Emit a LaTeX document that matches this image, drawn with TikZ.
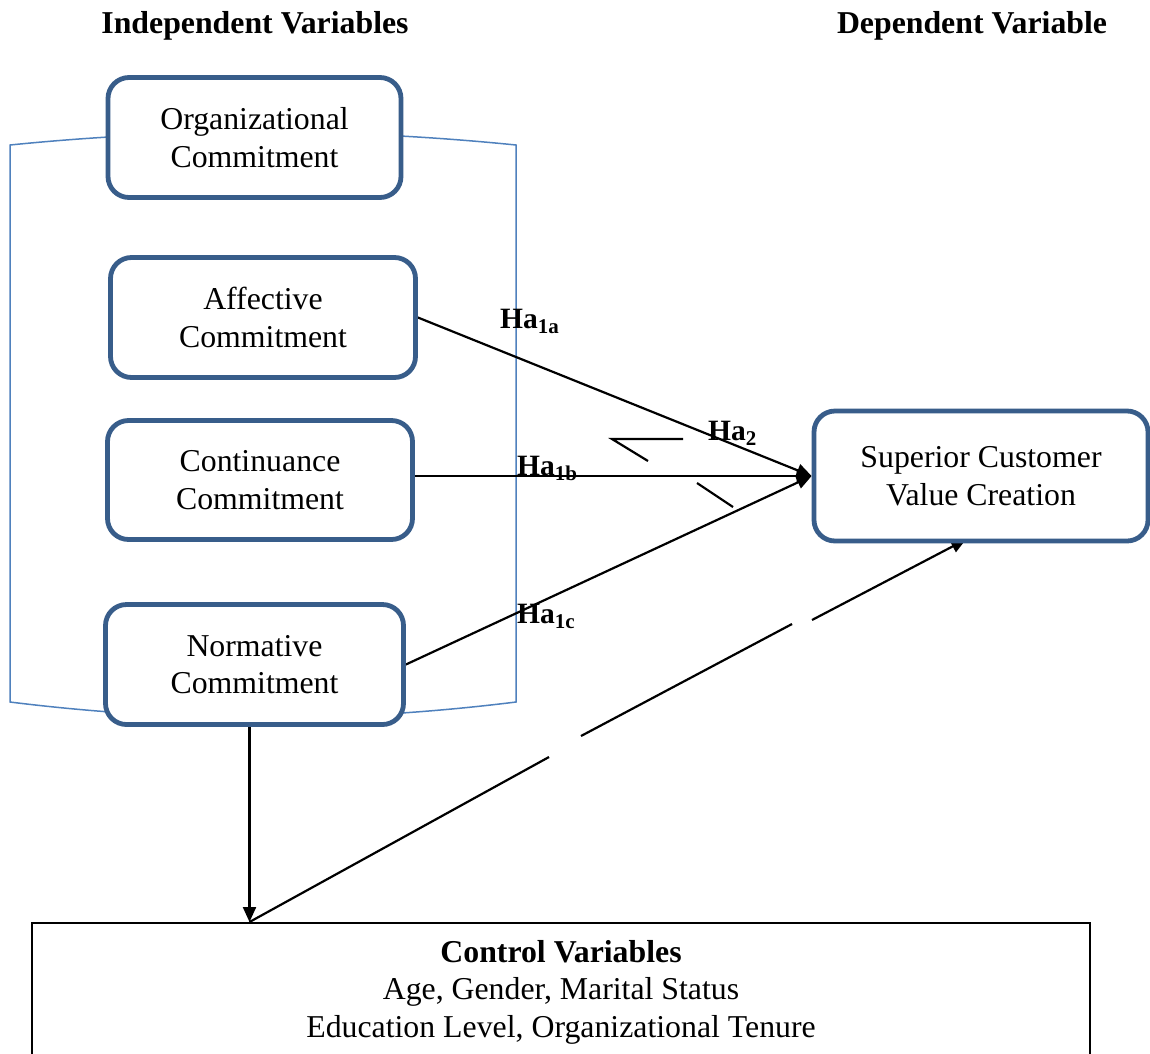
\documentclass[tikz,border=0pt]{standalone}
\usepackage{fontspec}
\setmainfont{Liberation Serif}
\usetikzlibrary{arrows.meta,backgrounds,calc}
\definecolor{boxblue}{RGB}{56,93,138}
\definecolor{brblue}{RGB}{79,129,189}
\newcommand{\bigtext}{\fontsize{31.8}{37.5}\selectfont}
\newcommand{\hyptext}{\fontsize{29.5}{30}\selectfont\bfseries}
\newcommand{\hyp}[2]{#1\raisebox{-0.2em}{\fontsize{21}{21}\selectfont\bfseries #2}}
\begin{document}
\begin{tikzpicture}[x=1pt,y=-1pt,
  varbox/.style={draw=boxblue, line width=4.8pt, rounded corners=21pt, fill=white,
    align=center, inner sep=0pt, font=\bigtext},
  link/.style={draw=black, line width=2.2pt, -{Triangle[length=15pt,width=13pt]}},
  plainline/.style={draw=black, line width=2.2pt},
  hlabel/.style={anchor=base west, inner sep=0pt, font=\hyptext},
  header/.style={font=\bigtext\bfseries, inner sep=0pt}]
\useasboundingbox (0,0) rectangle (1150,1053);

% headers
\node[header] (hind) at (255,26) {Independent Variables};
\node[header] (hdep) at (972,26) {Dependent Variable};

% variable boxes
\node[varbox, minimum width=293pt, minimum height=120pt] (oc) at (254.5,137.5) {Organizational\\Commitment};
\node[varbox, minimum width=305pt, minimum height=120pt] (ac) at (263,317.5) {Affective\\Commitment};
\node[varbox, minimum width=305pt, minimum height=119pt] (cc) at (260,480) {Continuance\\Commitment};
\node[varbox, minimum width=298pt, minimum height=120pt] (nc) at (254.5,664.5) {Normative\\Commitment};
\node[varbox, minimum width=334pt, minimum height=130pt] (sv) at (981,476) {Superior Customer\\Value Creation};

% control box
\node[draw=black, line width=2.2pt, minimum width=1058pt, anchor=north, align=center,
      inner xsep=0pt, inner ysep=17pt, font=\bigtext] (ctrl) at (561,922)
  {\textbf{Control Variables}\\Age, Gender, Marital Status\\Education Level, Organizational Tenure};

% hypothesis labels
\node[hlabel] (h1a) at (500,328) {\hyp{Ha}{1a}};
\node[hlabel] (h1b) at (517,475) {\hyp{Ha}{1b}};
\node[hlabel] (h1c) at (517,623) {\hyp{Ha}{1c}};
\node[hlabel] (h2) at (708,440) {\hyp{Ha}{2}};

\coordinate (vtop) at ($(nc.south)+(-5,0)$);
\coordinate (cvtop) at (vtop |- ctrl.north);
\coordinate (vtip) at ($(sv.south)+(-15,-4)$);
\coordinate (g1a) at (549,757);
\coordinate (g1b) at (581,736);
\coordinate (g2a) at (792,624);
\coordinate (g2b) at (812,620);

\begin{scope}[on background layer]
  \fill[white] (0,0) rectangle (1150,1053);
  % bracket
  \draw[brblue, line width=1.5pt] (10,702) -- (10,145)
     .. controls (178.7,128) and (347.3,128) .. (516,145)
     -- (516,702)
     .. controls (347.3,723) and (178.7,723) .. cycle;
  % connectors
  \draw[link] (ac.east) -- (sv.west);
  \draw[link] (cc.east |- sv.west) -- (sv.west);
  \draw[link] (nc.east) -- (sv.west);
  \draw[link] (vtop) -- (cvtop);
  \draw[plainline] (cvtop) -- (g1a);
  \draw[plainline] (g1b) -- (g2a);
  \draw[link] (g2b) -- (vtip);
  % broken strokes near Ha2
  \draw[plainline] (683,439) -- (612,439) -- (648,461);
  \draw[plainline] (697,483) -- (733,507);
\end{scope}
\end{tikzpicture}
\end{document}
